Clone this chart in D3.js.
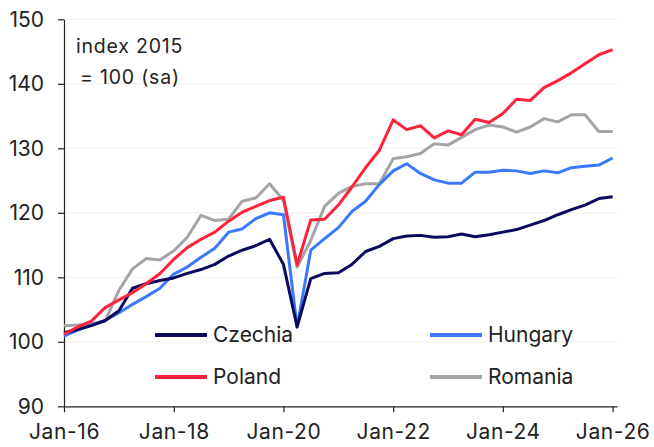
<!DOCTYPE html>
<html>
<head>
<meta charset="utf-8">
<script src="https://cdn.jsdelivr.net/npm/d3@7"></script>
<style>
  body { margin: 0; background: #fff; }
  svg text { font-family: Inter, "Noto Sans", sans-serif; fill: #222; }
  .tick text { font-size: 21px; }
  .x-axis .tick text { letter-spacing: 0.6px; }
  .grid line { stroke: #efefef; stroke-width: 1; }
</style>
</head>
<body>
<div id="chart"></div>
<script>
// quarterly, Q1-2016 .. Q1-2026 (index 2015 = 100, sa)
const quarters = d3.range(41).map(i => new Date(2016, i * 3, 1))

const czechia = [101.4, 101.9, 102.5, 103.3, 104.8, 108.3, 109.0, 109.5, 109.9, 110.6,
    111.2, 112.0, 113.3, 114.2, 114.9, 115.9, 112.0, 102.3, 109.8, 110.6,
    110.7, 112.0, 114.0, 114.8, 116.0, 116.4, 116.5, 116.2, 116.3, 116.7,
    116.3, 116.6, 117.0, 117.4, 118.1, 118.8, 119.7, 120.5, 121.2, 122.2, 122.5]

const hungary = [100.9, 101.8, 102.6, 103.3, 104.5, 105.8, 107.0, 108.3, 110.5, 111.6,
    113.1, 114.5, 117.0, 117.5, 119.1, 120.0, 119.7, 102.3, 114.2, 116.0,
    117.7, 120.2, 121.8, 124.4, 126.5, 127.6, 126.1, 125.1, 124.6, 124.6,
    126.3, 126.3, 126.6, 126.5, 126.1, 126.5, 126.2, 127.0, 127.2, 127.4, 128.5]

const poland = [101.2, 102.3, 103.2, 105.3, 106.5, 107.6, 109.0, 110.6, 112.8, 114.6,
    115.9, 117.0, 118.7, 120.1, 121.0, 121.9, 122.4, 111.9, 118.9, 119.0,
    121.2, 124.0, 127.0, 129.7, 134.4, 132.9, 133.5, 131.6, 132.7, 132.1,
    134.5, 134.0, 135.4, 137.6, 137.4, 139.4, 140.5, 141.7, 143.1, 144.5, 145.3]

const romania = [102.5, 102.6, 102.8, 103.2, 108.0, 111.3, 112.9, 112.7, 114.1, 116.2,
    119.6, 118.8, 119.0, 121.8, 122.3, 124.5, 121.9, 111.6, 115.7, 121.0,
    123.0, 124.1, 124.5, 124.5, 128.4, 128.7, 129.2, 130.7, 130.5, 131.7,
    132.9, 133.6, 133.3, 132.5, 133.3, 134.6, 134.1, 135.2, 135.2, 132.6, 132.6]

const yTicks = [90, 100, 110, 120, 130, 140, 150]
const xTicks = d3.range(2016, 2027, 2).map(y => new Date(y, 0, 1))

const series = [
    {name: "Czechia", values: czechia, color: "#0b0b5e"},
    {name: "Hungary", values: hungary, color: "#3b78ff"},
    {name: "Poland", values: poland, color: "#ff2238"},
    {name: "Romania", values: romania, color: "#a5a5a5"},
]

const width = 654
const height = 447

const xScale = d3.scaleTime()
    .domain([new Date(2016, 0, 1), new Date(2026, 0, 30)])
    .range([64, 617])

const yScale = d3.scaleLinear()
    .domain([90, 150])
    .range([406.3, 19.3])

const $svg = d3.select("#chart").append("svg")
    .attr("width", width)
    .attr("height", height)

//gridlines
$svg.append("g")
    .attr("class", "grid")
    .selectAll("line")
    .data(yTicks.slice(1))
    .enter().append("line")
    .attr("x1", xScale.range()[0])
    .attr("x2", xScale.range()[1])
    .attr("y1", d => yScale(d))
    .attr("y2", d => yScale(d))

const yAxis = g => g.attr("transform", `translate(${xScale.range()[0]}, 0)`)
    .call(d3.axisLeft(yScale).tickValues(yTicks).tickSize(6).tickPadding(14).tickSizeOuter(0))

const xAxis = g => g.attr("class", "x-axis")
    .attr("transform", `translate(0, ${yScale(90)})`)
    .call(d3.axisBottom(xScale).tickValues(xTicks).tickSize(6).tickPadding(12).tickSizeOuter(0)
        .tickFormat(d3.timeFormat("Jan-%y")))

$svg.append("g").call(yAxis)
$svg.append("g").call(xAxis)

$svg.selectAll(".domain, .tick line").attr("stroke", "#222").attr("stroke-width", 1.2)

const line = d3.line()
    .x((d, i) => xScale(quarters[i]))
    .y(d => yScale(d))

//draw romania first so the others sit on top
const order = ["Romania", "Hungary", "Czechia", "Poland"]
$svg.selectAll(".series")
    .data(order.map(n => series.find(s => s.name == n)))
    .enter().append("path")
    .attr("class", "series")
    .attr("fill", "none")
    .attr("stroke", d => d.color)
    .attr("stroke-width", 3)
    .attr("stroke-linejoin", "round")
    .attr("d", d => line(d.values))

//legend
const legendPos = [
    {name: "Czechia", x: 155, y: 335},
    {name: "Hungary", x: 430, y: 335},
    {name: "Poland", x: 155, y: 377},
    {name: "Romania", x: 430, y: 377},
]

const $legend = $svg.selectAll(".legend")
    .data(legendPos)
    .enter().append("g")
    .attr("class", "legend")
    .attr("transform", d => `translate(${d.x}, ${d.y})`)

$legend.append("line")
    .attr("x1", 0)
    .attr("x2", 52)
    .attr("stroke", d => series.find(s => s.name == d.name).color)
    .attr("stroke-width", 4)

$legend.append("text")
    .attr("x", 58)
    .attr("dy", "0.35em")
    .style("font-size", "21px")
    .text(d => d.name)

//unit note
$svg.append("text")
    .attr("x", 76)
    .attr("y", 53)
    .style("font-size", "19.5px")
    .style("letter-spacing", "0.8px")
    .text("index 2015")

$svg.append("text")
    .attr("x", 80)
    .attr("y", 84)
    .style("font-size", "19.5px")
    .style("letter-spacing", "0.8px")
    .text("= 100 (sa)")
</script>
</body>
</html>
